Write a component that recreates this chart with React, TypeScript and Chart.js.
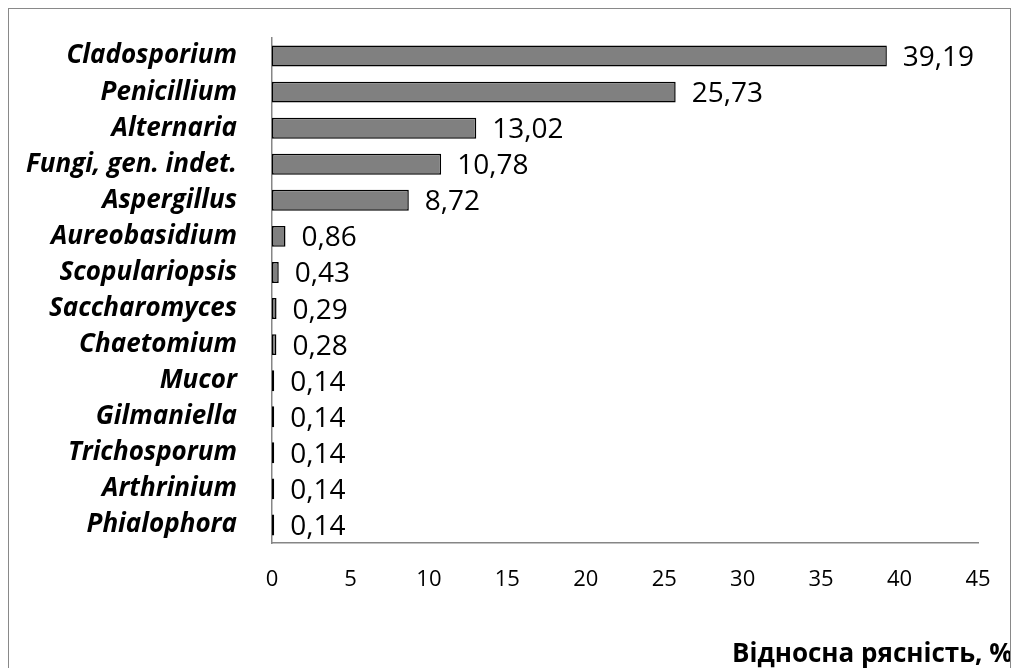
import React, { useEffect, useRef } from "react";
import { Chart, registerables } from "chart.js";

Chart.register(...registerables);

const categories = [
  "Cladosporium",
  "Penicillium",
  "Alternaria",
  "Fungi, gen. indet.",
  "Aspergillus",
  "Aureobasidium",
  "Scopulariopsis",
  "Saccharomyces",
  "Chaetomium",
  "Mucor",
  "Gilmaniella",
  "Trichosporum",
  "Arthrinium",
  "Phialophora",
];

const abundance = [39.19, 25.73, 13.02, 10.78, 8.72, 0.86, 0.43, 0.29, 0.28, 0.14, 0.14, 0.14, 0.14, 0.14];

const xTicks = [0, 5, 10, 15, 20, 25, 30, 35, 40, 45];

const axisTitle = "Відносна рясність, %";

const FONT = "'Open Sans', 'DejaVu Sans', sans-serif";

const valueLabels = {
  id: "valueLabels",
  afterDatasetsDraw(chart: any) {
    const ctx = chart.ctx;
    const meta = chart.getDatasetMeta(0);
    ctx.save();
    ctx.font = `28px ${FONT}`;
    ctx.fillStyle = "#000";
    ctx.textAlign = "left";
    ctx.textBaseline = "middle";
    meta.data.forEach((bar: any, i: number) => {
      const v = abundance[i];
      ctx.fillText(v.toFixed(2).replace(".", ","), bar.x + 16, bar.y + 2);
    });
    ctx.restore();
  },
};

const axisTitlePlugin = {
  id: "axisTitlePlugin",
  afterDraw(chart: any) {
    const ctx = chart.ctx;
    const area = chart.chartArea;
    ctx.save();
    ctx.font = `bold 26px ${FONT}`;
    ctx.fillStyle = "#000";
    ctx.textAlign = "left";
    ctx.textBaseline = "alphabetic";
    ctx.fillText(axisTitle, area.left + 460, area.bottom + 119);
    ctx.restore();
  },
};

export default function App() {
  const canvasRef = useRef<HTMLCanvasElement | null>(null);

  useEffect(() => {
    if (!canvasRef.current) return;
    const chart = new Chart(canvasRef.current, {
      type: "bar",
      data: {
        labels: categories,
        datasets: [
          {
            data: abundance,
            backgroundColor: "#808080",
            borderColor: "#000000",
            borderWidth: 1.5,
            borderSkipped: false,
            barPercentage: 0.58,
            categoryPercentage: 1,
          },
        ],
      },
      options: {
        indexAxis: "y",
        responsive: false,
        animation: false,
        events: [],
        layout: { padding: { top: 29, right: 32, left: 0, bottom: 0 } },
        plugins: {
          legend: { display: false },
          tooltip: { enabled: false },
          title: { display: false },
        },
        scales: {
          x: {
            type: "linear",
            min: 0,
            max: 45,
            afterBuildTicks: (scale: any) => {
              scale.ticks = xTicks.map((v) => ({ value: v }));
            },
            afterFit: (scale: any) => {
              scale.height = 164;
              scale.paddingLeft = 0;
              scale.paddingRight = 0;
            },
            grid: { display: false, drawTicks: false },
            border: { display: true, color: "#868686", width: 1.5 },
            ticks: {
              padding: 24,
              color: "#000",
              font: { family: FONT, size: 22 },
              maxRotation: 0,
            },
          },
          y: {
            type: "category",
            afterFit: (scale: any) => {
              scale.width = 263;
              scale.paddingTop = 0;
              scale.paddingBottom = 0;
            },
            grid: { display: false, drawTicks: false },
            border: { display: true, color: "#868686", width: 1.5 },
            ticks: {
              padding: 35,
              color: "#000",
              font: { family: FONT, size: 26, style: "italic", weight: "bold" },
              autoSkip: false,
            },
          },
        },
      },
      plugins: [valueLabels, axisTitlePlugin],
    });
    return () => chart.destroy();
  }, []);

  return (
    <div
      style={{
        position: "fixed",
        left: 8,
        top: 8,
        width: 1003,
        height: 700,
        border: "1px solid #898989",
        boxSizing: "border-box",
        background: "#fff",
        overflow: "hidden",
      }}
    >
      <canvas ref={canvasRef} width={1001} height={698} style={{ display: "block" }} />
    </div>
  );
}
